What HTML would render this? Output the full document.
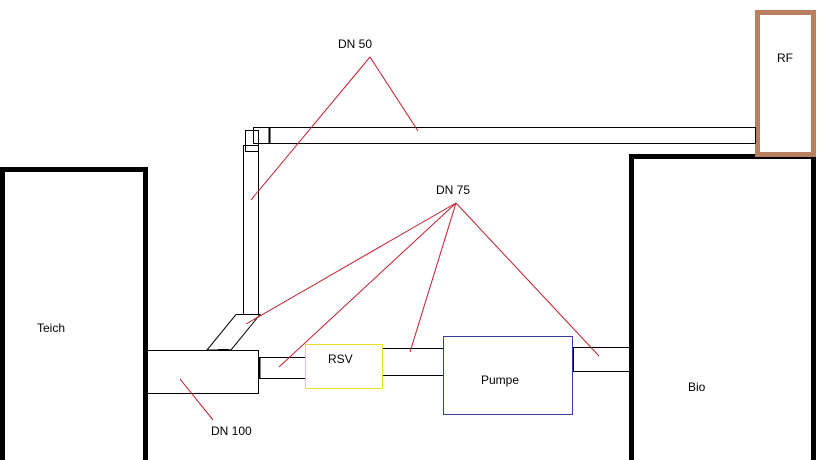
<!DOCTYPE html>
<html><head><meta charset="utf-8"><style>
html,body{margin:0;padding:0;background:#fff;width:819px;height:460px;overflow:hidden}
</style></head><body>
<svg width="819" height="460" xmlns="http://www.w3.org/2000/svg" font-family="Liberation Sans, sans-serif" font-size="12">
<rect width="819" height="460" fill="#fff"/>
<!-- Teich -->
<rect x="2.5" y="169.5" width="143" height="295" fill="none" stroke="#000" stroke-width="5"/>
<!-- Bio -->
<rect x="631.5" y="156.5" width="182" height="310" fill="none" stroke="#000" stroke-width="5"/>
<!-- RF -->
<rect x="757.5" y="12.5" width="56" height="142" fill="#fff" stroke="#b97f5e" stroke-width="5"/>
<g fill="none" stroke="#000" stroke-width="1">
<!-- DN50 horizontal -->
<rect x="253.5" y="127.5" width="502" height="16"/>
<line x1="269.5" y1="127" x2="269.5" y2="143" stroke-width="2"/>
<rect x="245.5" y="130.5" width="13" height="21"/>
<!-- vertical -->
<rect x="243.5" y="145.5" width="15" height="169"/>
<!-- diagonal -->
<polygon points="236,314.5 260,314.5 231,350 207,350"/>
<line x1="218" y1="350" x2="229" y2="350" stroke-width="2"/>
<!-- DN100 -->
<rect x="147.5" y="350.5" width="111" height="43"/>
<rect x="259.5" y="357.5" width="46" height="21"/>
<line x1="259.5" y1="357" x2="259.5" y2="379" stroke-width="2"/>
<rect x="382.5" y="348.5" width="61" height="27"/>
<rect x="573.5" y="347.5" width="56" height="24"/>
</g>
<rect x="305.5" y="344.5" width="77" height="44" fill="#fff" stroke="#f0e020"/>
<rect x="443.5" y="336.5" width="129" height="78" fill="#fff" stroke="#3a3a9a"/>
<g stroke="#c02030" stroke-width="1">
<line x1="370" y1="57" x2="251" y2="200"/>
<line x1="370" y1="57" x2="418" y2="131"/>
<line x1="456" y1="203" x2="246" y2="324"/>
<line x1="456" y1="203" x2="279" y2="367"/>
<line x1="456" y1="203" x2="410" y2="352"/>
<line x1="456" y1="203" x2="599" y2="356"/>
<line x1="180" y1="379" x2="213" y2="420"/>
</g>
<g fill="#000">
<text x="338" y="48">DN 50</text>
<text x="436" y="194">DN 75</text>
<text x="211" y="435">DN 100</text>
<text x="777" y="62">RF</text>
<text x="37" y="332">Teich</text>
<text x="688" y="391">Bio</text>
<text x="328" y="363">RSV</text>
<text x="481" y="384">Pumpe</text>
</g>
</svg>
</body></html>
